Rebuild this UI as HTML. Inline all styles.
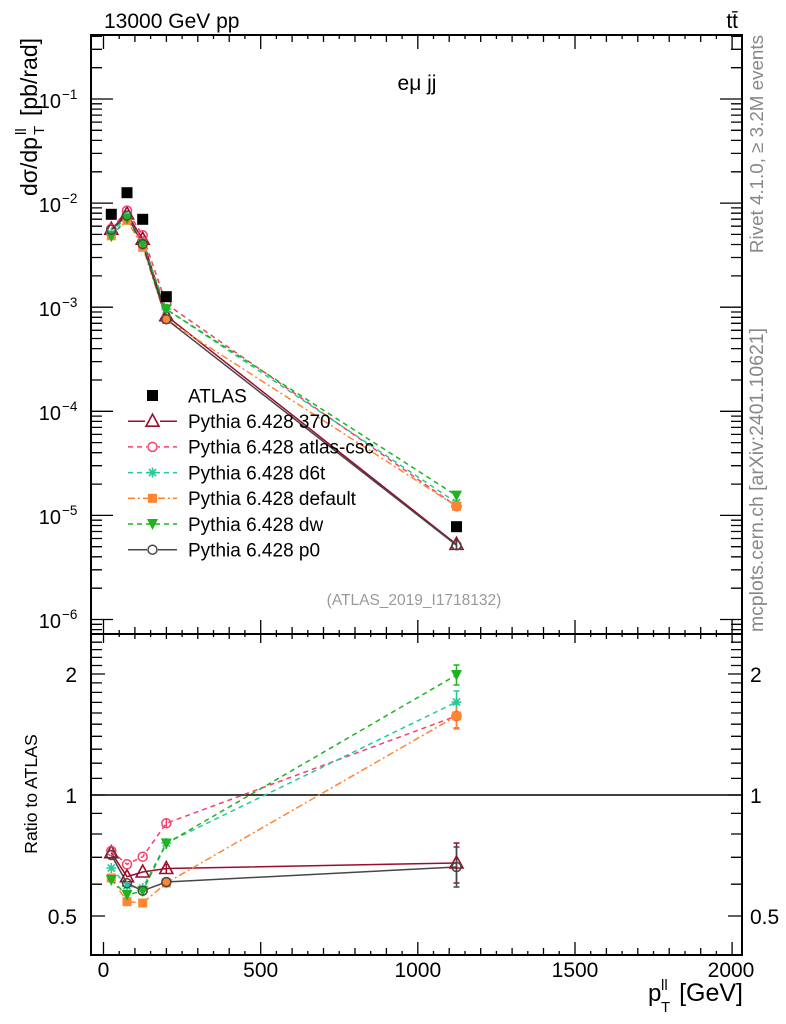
<!DOCTYPE html>
<html><head><meta charset="utf-8"><style>html,body{margin:0;padding:0;background:#fff}svg{display:block}</style></head>
<body>
<svg width="786" height="1024" viewBox="0 0 786 1024" xmlns="http://www.w3.org/2000/svg" xmlns:xlink="http://www.w3.org/1999/xlink" font-family="'Liberation Sans', Arial, sans-serif">
<rect width="786" height="1024" fill="#fff"/>
<defs>
<path id="xM" d="M103.5 0v1M260.7 0v1M417.8 0v1M575 0v1M732.1 0v1"/>
<path id="x100" d="M134.9 0v1M166.4 0v1M197.8 0v1M229.2 0v1M292.1 0v1M323.5 0v1M355 0v1M386.4 0v1M449.2 0v1M480.7 0v1M512.1 0v1M543.5 0v1M606.4 0v1M637.8 0v1M669.2 0v1M700.7 0v1"/>
<path id="x50" d="M119.2 0v1M150.6 0v1M182.1 0v1M213.5 0v1M244.9 0v1M276.4 0v1M307.8 0v1M339.2 0v1M370.7 0v1M402.1 0v1M433.5 0v1M465 0v1M496.4 0v1M527.8 0v1M559.2 0v1M590.7 0v1M622.1 0v1M653.5 0v1M685 0v1M716.4 0v1"/>
<path id="yMm" d="M0 99h1M0 203.1h1M0 307.2h1M0 411.3h1M0 515.4h1M0 619.5h1"/>
<path id="yMn" d="M0 36.3h1M0 49.3h1M0 67.7h1M0 103.8h1M0 109.1h1M0 115.1h1M0 122.1h1M0 130.3h1M0 140.4h1M0 153.4h1M0 171.8h1M0 207.9h1M0 213.2h1M0 219.2h1M0 226.2h1M0 234.4h1M0 244.5h1M0 257.5h1M0 275.9h1M0 312h1M0 317.3h1M0 323.3h1M0 330.3h1M0 338.5h1M0 348.6h1M0 361.6h1M0 380h1M0 416.1h1M0 421.4h1M0 427.4h1M0 434.4h1M0 442.6h1M0 452.7h1M0 465.7h1M0 484.1h1M0 520.2h1M0 525.5h1M0 531.5h1M0 538.5h1M0 546.7h1M0 556.8h1M0 569.8h1M0 588.2h1M0 624.3h1M0 629.6h1"/>
<path id="yRm" d="M0 916h1M0 795h1M0 674h1"/>
<path id="yRn" d="M0 884.2h1M0 857.3h1M0 834h1M0 813.4h1M0 778.4h1M0 763.2h1M0 749.2h1M0 736.3h1M0 724.2h1M0 713h1M0 702.4h1M0 692.4h1M0 682.9h1M0 665.5h1M0 657.4h1M0 649.6h1M0 642.2h1"/>
<path id="mTri" d="M0 -7L-6.5 5H6.5Z" fill="none" stroke="#9b0d2b" stroke-width="1.6"/>
<circle id="mCsc" r="4.5" fill="none" stroke="#f5416a" stroke-width="1.5"/>
<path id="mAst" d="M-5 0H5M0 -5V5M-3.6 -3.6L3.6 3.6M-3.6 3.6L3.6 -3.6" stroke="#22cc99" stroke-width="1.6" fill="none"/>
<rect id="mDef" x="-4.5" y="-4.5" width="9" height="9" fill="#ff8533"/>
<path id="mDw" d="M-5.5 -5H5.5L0 6Z" fill="#1fb31f"/>
<circle id="mP0" r="4.5" fill="none" stroke="#474747" stroke-width="1.5"/>
<rect id="mAt" x="-5.5" y="-5.5" width="11" height="11" fill="#000"/>
</defs>

<!-- header texts -->
<text x="104" y="28" font-size="21" fill="#000">13000 GeV pp</text>
<text x="738" y="28" font-size="21" text-anchor="end" fill="#000">tt̄</text>
<text x="417" y="90" font-size="21" text-anchor="middle" fill="#000">eμ jj</text>

<!-- right side rotated -->
<text transform="translate(763,35) rotate(-90)" font-size="18.8" text-anchor="end" fill="#888">Rivet 4.1.0, ≥ 3.2M events</text>
<text transform="translate(763,632) rotate(-90)" font-size="19.4" text-anchor="start" fill="#888">mcplots.cern.ch [arXiv:2401.10621]</text>

<!-- y axis title main -->
<g transform="translate(37,196) rotate(-90)" font-size="23" fill="#000">
<text x="0" y="0">dσ/dp</text>
<text x="61" y="7" font-size="15">T</text>
<text x="61" y="-11" font-size="15">ll</text>
<text x="80" y="0">[pb/rad]</text>
</g>

<!-- ratio y title -->
<text transform="translate(37,794) rotate(-90)" font-size="17.7" text-anchor="middle" fill="#000">Ratio to ATLAS</text>

<!-- main y tick labels -->
<g font-size="20" fill="#000">
<text x="61" y="108" text-anchor="end">10</text><text x="62" y="99" font-size="13.5">−1</text>
<text x="61" y="212" text-anchor="end">10</text><text x="62" y="203" font-size="13.5">−2</text>
<text x="61" y="316" text-anchor="end">10</text><text x="62" y="307" font-size="13.5">−3</text>
<text x="61" y="420" text-anchor="end">10</text><text x="62" y="411" font-size="13.5">−4</text>
<text x="61" y="524" text-anchor="end">10</text><text x="62" y="515" font-size="13.5">−5</text>
<text x="61" y="628" text-anchor="end">10</text><text x="62" y="619" font-size="13.5">−6</text>
</g>

<!-- ratio y tick labels -->
<g font-size="21" fill="#000">
<text x="77" y="682" text-anchor="end">2</text>
<text x="77" y="803" text-anchor="end">1</text>
<text x="77" y="924" text-anchor="end">0.5</text>
<text x="750" y="682">2</text>
<text x="750" y="803">1</text>
<text x="750" y="924">0.5</text>
</g>

<!-- x tick labels -->
<g font-size="21" fill="#000" text-anchor="middle">
<text x="103.5" y="977">0</text>
<text x="260.7" y="977">500</text>
<text x="417.8" y="977">1000</text>
<text x="575" y="977">1500</text>
<text x="731" y="977">2000</text>
</g>

<!-- x axis title -->
<g font-size="24" fill="#000">
<text x="648" y="1001">p</text>
<text x="661" y="1012" font-size="15">T</text>
<text x="661" y="990" font-size="15">ll</text>
<text x="743" y="1001" text-anchor="end" font-size="25">[GeV]</text>
</g>

<!-- ATLAS ref -->
<text x="414" y="605" font-size="15.5" text-anchor="middle" fill="#999">(ATLAS_2019_I1718132)</text>

<!-- ticks -->
<g stroke="#000" stroke-width="1.3" fill="none">
<use xlink:href="#xM" transform="translate(0,35) scale(1,14)"/>
<use xlink:href="#x100" transform="translate(0,35) scale(1,7)"/>
<use xlink:href="#x50" transform="translate(0,35) scale(1,4)"/>
<use xlink:href="#xM" transform="translate(0,634) scale(1,-14)"/>
<use xlink:href="#x100" transform="translate(0,634) scale(1,-7)"/>
<use xlink:href="#x50" transform="translate(0,634) scale(1,-4)"/>
<use xlink:href="#xM" transform="translate(0,634) scale(1,9)"/>
<use xlink:href="#x100" transform="translate(0,634) scale(1,5)"/>
<use xlink:href="#x50" transform="translate(0,634) scale(1,3)"/>
<use xlink:href="#xM" transform="translate(0,955) scale(1,-13)"/>
<use xlink:href="#x100" transform="translate(0,955) scale(1,-7)"/>
<use xlink:href="#x50" transform="translate(0,955) scale(1,-4)"/>
<use xlink:href="#yMm" transform="translate(91,0) scale(22,1)"/>
<use xlink:href="#yMn" transform="translate(91,0) scale(11,1)"/>
<use xlink:href="#yMm" transform="translate(742,0) scale(-22,1)"/>
<use xlink:href="#yMn" transform="translate(742,0) scale(-11,1)"/>
<use xlink:href="#yRm" transform="translate(91,0) scale(14,1)"/>
<use xlink:href="#yRn" transform="translate(91,0) scale(11,1)"/>
<use xlink:href="#yRm" transform="translate(742,0) scale(-14,1)"/>
<use xlink:href="#yRn" transform="translate(742,0) scale(-11,1)"/>
</g>

<!-- ratio reference line -->
<line x1="91" x2="742" y1="795" y2="795" stroke="#000" stroke-width="1.5"/>

<!-- MAIN PLOT lines -->
<g fill="none" stroke-width="1.5">
<polyline stroke="#9b0d2b" points="111.3,229.2 127,213.9 142.7,239.2 166.3,315.7 456.5,544.3"/>
<polyline stroke="#f5416a" stroke-dasharray="5,4" points="111.3,228.8 127,210.6 142.7,235.3 166.3,304 456.5,506.2"/>
<polyline stroke="#22cc99" stroke-dasharray="5,4" points="111.3,233.2 127,216.3 142.7,243.4 166.3,309.1 456.5,502.6"/>
<polyline stroke="#ff8533" stroke-dasharray="7,3,2,3" points="111.3,235.8 127,220.3 142.7,247.3 166.3,319.5 456.5,506.2"/>
<polyline stroke="#1fb31f" stroke-dasharray="5,4" points="111.3,236.3 127,218.6 142.7,244.2 166.3,309.3 456.5,495.6"/>
<polyline stroke="#474747" points="111.3,229.8 127,215.6 142.7,244.1 166.3,319.2 456.5,545.3"/>
</g>
<!-- main error bars pt5 -->
<g stroke-width="1.4">
<path d="M456.5 539V549" stroke="#9b0d2b"/>
<path d="M456.5 503V509" stroke="#f5416a"/>
<path d="M456.5 500V505" stroke="#22cc99"/>
<path d="M456.5 503V509" stroke="#ff8533"/>
<path d="M456.5 493V498" stroke="#1fb31f"/>
<path d="M456.5 540V550" stroke="#474747"/>
</g>
<!-- main markers -->
<use xlink:href="#mTri" x="111.3" y="229.2"/><use xlink:href="#mTri" x="127" y="213.9"/><use xlink:href="#mTri" x="142.7" y="239.2"/><use xlink:href="#mTri" x="166.3" y="315.7"/><use xlink:href="#mTri" x="456.5" y="544.3"/>
<use xlink:href="#mCsc" x="111.3" y="228.8"/><use xlink:href="#mCsc" x="127" y="210.6"/><use xlink:href="#mCsc" x="142.7" y="235.3"/><use xlink:href="#mCsc" x="166.3" y="304"/><use xlink:href="#mCsc" x="456.5" y="506.2"/>
<use xlink:href="#mAst" x="111.3" y="233.2"/><use xlink:href="#mAst" x="127" y="216.3"/><use xlink:href="#mAst" x="142.7" y="243.4"/><use xlink:href="#mAst" x="166.3" y="309.1"/><use xlink:href="#mAst" x="456.5" y="502.6"/>
<use xlink:href="#mDef" x="111.3" y="235.8"/><use xlink:href="#mDef" x="127" y="220.3"/><use xlink:href="#mDef" x="142.7" y="247.3"/><use xlink:href="#mDef" x="166.3" y="319.5"/><use xlink:href="#mDef" x="456.5" y="506.2"/>
<use xlink:href="#mDw" x="111.3" y="236.3"/><use xlink:href="#mDw" x="127" y="218.6"/><use xlink:href="#mDw" x="142.7" y="244.2"/><use xlink:href="#mDw" x="166.3" y="309.3"/><use xlink:href="#mDw" x="456.5" y="495.6"/>
<use xlink:href="#mP0" x="111.3" y="229.8"/><use xlink:href="#mP0" x="127" y="215.6"/><use xlink:href="#mP0" x="142.7" y="244.1"/><use xlink:href="#mP0" x="166.3" y="319.2"/><use xlink:href="#mP0" x="456.5" y="545.3"/>
<!-- ATLAS data -->
<use xlink:href="#mAt" x="111.3" y="214.3"/><use xlink:href="#mAt" x="127" y="192.7"/><use xlink:href="#mAt" x="142.7" y="219.3"/><use xlink:href="#mAt" x="166.3" y="296.7"/><use xlink:href="#mAt" x="456.5" y="526.7"/>

<!-- RATIO lines -->
<g fill="none" stroke-width="1.5">
<polyline stroke="#9b0d2b" points="111.3,852.7 127,876.7 142.7,872 166.3,868.5 456.5,863"/>
<polyline stroke="#f5416a" stroke-dasharray="5,4" points="111.3,851 127,864.3 142.7,856.7 166.3,823.3 456.5,716"/>
<polyline stroke="#22cc99" stroke-dasharray="5,4" points="111.3,868 127,886 142.7,888 166.3,843 456.5,702"/>
<polyline stroke="#ff8533" stroke-dasharray="7,3,2,3" points="111.3,878 127,901.7 142.7,903 166.3,883 456.5,716"/>
<polyline stroke="#1fb31f" stroke-dasharray="5,4" points="111.3,880 127,895 142.7,891 166.3,843.5 456.5,675"/>
<polyline stroke="#474747" points="111.3,855 127,883.3 142.7,890.7 166.3,882 456.5,867"/>
</g>
<!-- ratio error bars -->
<g stroke-width="1.5" fill="none">
<path d="M456.5 843V883M453.5 843H459.5M453.5 883H459.5M166.3 864V873" stroke="#9b0d2b"/>
<path d="M456.5 704V728M453.5 704H459.5M453.5 728H459.5M166.3 818V828" stroke="#f5416a"/>
<path d="M456.5 691V713M453.5 691H459.5M453.5 713H459.5M166.3 838V848" stroke="#22cc99"/>
<path d="M456.5 703V729M453.5 703H459.5M453.5 729H459.5M166.3 878V888" stroke="#ff8533"/>
<path d="M456.5 665V685M453.5 665H459.5M453.5 685H459.5M166.3 838V849" stroke="#1fb31f"/>
<path d="M456.5 847V887M453.5 847H459.5M453.5 887H459.5M166.3 877V887" stroke="#474747"/>
</g>
<!-- ratio markers -->
<use xlink:href="#mTri" x="111.3" y="852.7"/><use xlink:href="#mTri" x="127" y="876.7"/><use xlink:href="#mTri" x="142.7" y="872"/><use xlink:href="#mTri" x="166.3" y="868.5"/><use xlink:href="#mTri" x="456.5" y="863"/>
<use xlink:href="#mCsc" x="111.3" y="851"/><use xlink:href="#mCsc" x="127" y="864.3"/><use xlink:href="#mCsc" x="142.7" y="856.7"/><use xlink:href="#mCsc" x="166.3" y="823.3"/><use xlink:href="#mCsc" x="456.5" y="716"/>
<use xlink:href="#mAst" x="111.3" y="868"/><use xlink:href="#mAst" x="127" y="886"/><use xlink:href="#mAst" x="142.7" y="888"/><use xlink:href="#mAst" x="166.3" y="843"/><use xlink:href="#mAst" x="456.5" y="702"/>
<use xlink:href="#mDef" x="111.3" y="878"/><use xlink:href="#mDef" x="127" y="901.7"/><use xlink:href="#mDef" x="142.7" y="903"/><use xlink:href="#mDef" x="166.3" y="883"/><use xlink:href="#mDef" x="456.5" y="716"/>
<use xlink:href="#mDw" x="111.3" y="880"/><use xlink:href="#mDw" x="127" y="895"/><use xlink:href="#mDw" x="142.7" y="891"/><use xlink:href="#mDw" x="166.3" y="843.5"/><use xlink:href="#mDw" x="456.5" y="675"/>
<use xlink:href="#mP0" x="111.3" y="855"/><use xlink:href="#mP0" x="127" y="883.3"/><use xlink:href="#mP0" x="142.7" y="890.7"/><use xlink:href="#mP0" x="166.3" y="882"/><use xlink:href="#mP0" x="456.5" y="867"/>

<!-- LEGEND -->
<g fill="none" stroke-width="1.5">
<line x1="128" x2="177" y1="421.2" y2="421.2" stroke="#9b0d2b"/>
<line x1="128" x2="177" y1="446.9" y2="446.9" stroke="#f5416a" stroke-dasharray="5,4"/>
<line x1="128" x2="177" y1="472.6" y2="472.6" stroke="#22cc99" stroke-dasharray="5,4"/>
<line x1="128" x2="177" y1="498.3" y2="498.3" stroke="#ff8533" stroke-dasharray="7,3,2,3"/>
<line x1="128" x2="177" y1="524" y2="524" stroke="#1fb31f" stroke-dasharray="5,4"/>
<line x1="128" x2="177" y1="549.7" y2="549.7" stroke="#474747"/>
</g>
<use xlink:href="#mAt" x="152.5" y="395.5"/>
<rect x="145" y="413" width="15" height="14" fill="#fff"/>
<use xlink:href="#mTri" x="152.5" y="421.2"/>
<rect x="147" y="441.5" width="11" height="11" fill="#fff"/>
<use xlink:href="#mCsc" x="152.5" y="446.9"/>
<use xlink:href="#mAst" x="152.5" y="472.6"/>
<use xlink:href="#mDef" x="152.5" y="498.3"/>
<use xlink:href="#mDw" x="152.5" y="524"/>
<rect x="147" y="544.3" width="11" height="11" fill="#fff"/>
<use xlink:href="#mP0" x="152.5" y="549.7"/>
<g font-size="19" fill="#000">
<text x="188" y="402.3">ATLAS</text>
<text x="188" y="428">Pythia 6.428 370</text>
<text x="188" y="453.7">Pythia 6.428 atlas-csc</text>
<text x="188" y="479.4">Pythia 6.428 d6t</text>
<text x="188" y="505.1">Pythia 6.428 default</text>
<text x="188" y="530.8">Pythia 6.428 dw</text>
<text x="188" y="556.5">Pythia 6.428 p0</text>
</g>

<!-- frames -->
<rect x="91" y="35" width="651" height="599" fill="none" stroke="#000" stroke-width="2"/>
<rect x="91" y="634" width="651" height="321" fill="none" stroke="#000" stroke-width="2"/>
</svg>
</body></html>
